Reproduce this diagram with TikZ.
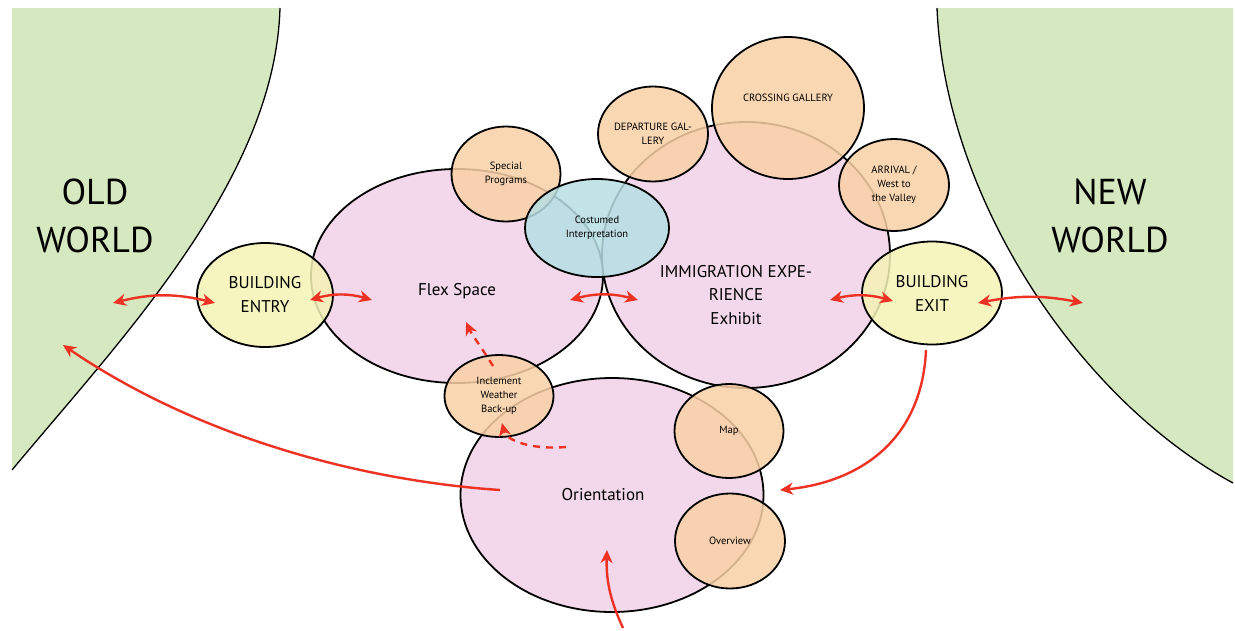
\documentclass[tikz,border=0pt]{standalone}
\usepackage{fontspec}
\setmainfont{PT Sans}
\usetikzlibrary{shapes.geometric,arrows.meta,calc}
\definecolor{landgreen}{RGB}{213,232,192}
\definecolor{roompink}{RGB}{242,216,234}
\definecolor{subpeach}{RGB}{249,208,166}
\definecolor{interblue}{RGB}{183,222,227}
\definecolor{doorgold}{RGB}{245,243,181}
\definecolor{pathred}{RGB}{237,50,36}

\begin{document}
\begin{tikzpicture}[x=1pt,y=-1pt,
  zone/.style={ellipse,draw=black,line width=1.8pt,fill=roompink,inner sep=0pt,
               font=\fontsize{17}{23.5}\selectfont,align=center},
  sub/.style={ellipse,draw=black,line width=1.8pt,fill=subpeach,fill opacity=0.85,
              text opacity=1,inner sep=0pt,font=\fontsize{10.5}{14}\selectfont,align=center},
  door/.style={sub,fill=doorgold,font=\fontsize{17}{24}\selectfont},
  world/.style={font=\fontsize{36}{48}\selectfont,align=center},
  twoway/.style={draw=pathred,line width=2.4pt,{Stealth[length=13pt,width=12pt,inset=4pt]}-{Stealth[length=13pt,width=12pt,inset=4pt]}},
  oneway/.style={draw=pathred,line width=2.4pt,-{Stealth[length=13pt,width=12pt,inset=4pt]}},
  dashway/.style={oneway,dash pattern=on 7pt off 6pt}]

  \useasboundingbox (0,0) rectangle (1235,630);

  \fill[landgreen] (12,8) -- (280,8) .. controls (275,180) and (120,340) .. (12,470) -- cycle;
  \draw[line width=1.3pt] (280,8) .. controls (275,180) and (120,340) .. (12,470);
  \fill[landgreen] (937,8) .. controls (945,200) and (1080,400) .. (1233,483) -- (1233,8) -- cycle;
  \draw[line width=1.3pt] (937,8) .. controls (945,200) and (1080,400) .. (1233,483);

  \node[world] (old) at (95,216) {OLD\\WORLD};
  \node[world] (new) at (1110,216) {NEW\\WORLD};

  \node[zone,minimum width=292pt,minimum height=214pt] (flex) at (457,276) {};
  \node[font=\fontsize{17}{24}\selectfont] at (457,291) {Flex Space};
  \node[zone,minimum width=288pt,minimum height=266pt] (imm) at (746,255) {};
  \node[font=\fontsize{17}{23.5}\selectfont,align=center] at (736,295) {IMMIGRATION EXPE-\\RIENCE\\Exhibit};
  \node[zone,minimum width=303pt,minimum height=234pt] (orient) at (612,495) {};
  \node[font=\fontsize{17}{24}\selectfont] at (603,495) {Orientation};

  \node[sub,minimum width=109pt,minimum height=95pt] (special) at (506,174) {Special\\Programs};
  \node[sub,minimum width=110pt,minimum height=95pt] (depart) at (653,134) {DEPARTURE GAL-\\LERY};
  \node[sub,minimum width=152pt,minimum height=142pt] (crossing) at (788,108) {};
  \node[font=\fontsize{10.5}{14}\selectfont] at (788,98) {CROSSING GALLERY};
  \node[sub,minimum width=110pt,minimum height=92pt] (arrival) at (894,185) {ARRIVAL /\\West to\\the Valley};
  \node[sub,fill=interblue,minimum width=144pt,minimum height=98pt] (costume) at (597,228) {Costumed\\Interpretation};
  \node[door,minimum width=136pt,minimum height=104pt] (entry) at (265,295) {BUILDING\\ENTRY};
  \node[door,minimum width=140pt,minimum height=103pt] (exit) at (932,293) {BUILDING\\EXIT};
  \node[sub,minimum width=109pt,minimum height=82pt] (incl) at (499,396) {Inclement\\Weather\\Back-up};
  \node[sub,minimum width=109pt,minimum height=94pt] (map) at (729,431) {Map};
  \node[sub,minimum width=110pt,minimum height=95pt] (overview) at (730,541) {Overview};

  \coordinate (oldin) at (113,303);
  \coordinate (oldback) at (63,345);
  \coordinate (newin) at (1083,303);
  \coordinate (street) at (623,628);

  \draw[twoway] (oldin) to[bend left=14] ($(entry)+(-50,8)$);
  \draw[twoway] ($(entry)+(45,5)$) to[bend left=16] ($(flex)+(-85,24)$);
  \draw[twoway] ($(flex)+(113,24)$) to[bend left=15] ($(imm)+(-108,45)$);
  \draw[twoway] ($(imm)+(84,45)$) to[bend left=15] ($(exit)+(-39,8)$);
  \draw[twoway] ($(exit)+(46,10)$) to[bend left=11] (newin);

  \draw[oneway] ($(orient)+(-112,-5)$) .. controls (380,482) and (210,445) .. (oldback);
  \draw[oneway] ($(exit)+(-6,57)$) .. controls (922,440) and (860,482) .. ($(orient)+(168,-5)$);
  \draw[oneway] (street) .. controls (610,600) and (606,580) .. ($(orient)+(-5,55)$);
  \draw[dashway] ($(incl)+(-6,-30)$) .. controls (480,345) and (472,335) .. ($(flex)+(9,46)$);
  \draw[dashway] ($(orient)+(-46,-48)$) .. controls (530,450) and (506,440) .. ($(incl)+(3,27)$);

\end{tikzpicture}
\end{document}
